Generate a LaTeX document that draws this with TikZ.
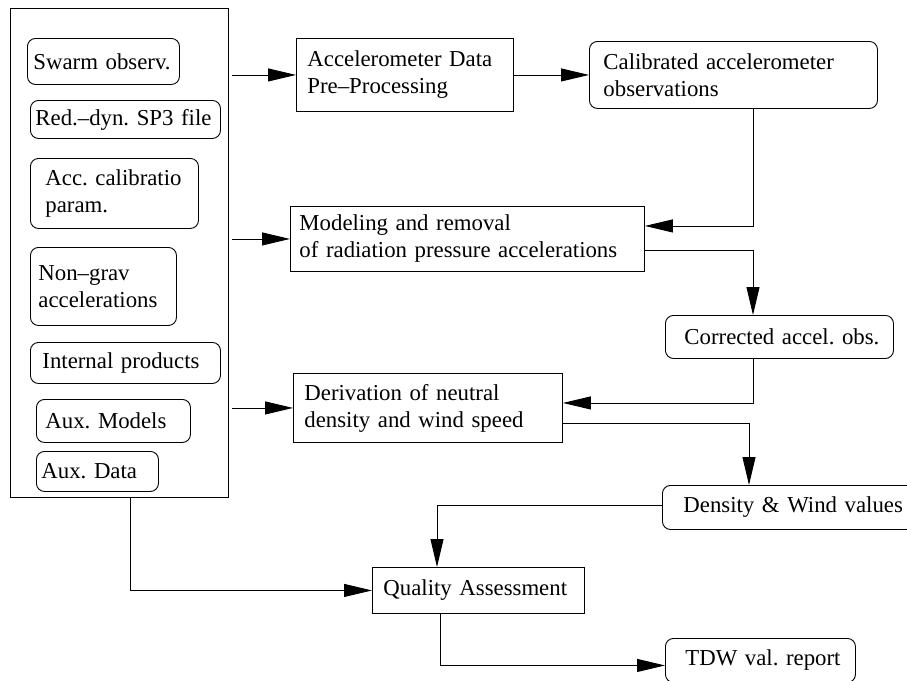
\documentclass[tikz,border=0pt]{standalone}
\usepackage{fontspec}
\setmainfont{Liberation Serif}
\usetikzlibrary{arrows.meta}
\begin{document}
\begin{tikzpicture}[x=1pt,y=-1pt]
        \tikzset{flow box/.style={draw,line width=0.9pt,anchor=north west,inner ysep=0pt,align=left,font=\fontsize{22.8}{27}\selectfont\frenchspacing},
                 data box/.style={flow box,rounded corners=8pt},
                 flow arrow/.style={line width=0.9pt,-{Triangle[length=28pt,width=13pt]}}}
        \useasboundingbox (0,0) rectangle (907,680);

        % inputs
        \node[flow box, minimum width=218pt, minimum height=489pt, inner sep=0pt] (inputs) at (10,8) {};
        \node[data box, minimum height=46pt, inner xsep=6pt, text width=140pt] (swarm) at (27,38) {\mbox{Swarm observ.}};
        \node[data box, minimum height=38pt, inner xsep=5pt, text width=180pt] (sp3) at (30,100) {\mbox{Red.--dyn. SP3 file}};
        \node[data box, minimum height=70pt, inner xsep=15pt, text width=138pt] (accpar) at (30,158) {\mbox{Acc. calibratio}\\param.};
        \node[data box, minimum height=78pt, inner xsep=8pt, text width=130pt] (nongrav) at (30,247) {Non--grav\\accelerations};
        \node[data box, minimum height=41pt, inner xsep=12pt, text width=166pt] (internal) at (30,342) {Internal products};
        \node[data box, minimum height=43pt, inner xsep=9pt, text width=136pt] (auxmod) at (36,399) {Aux. Models};
        \node[data box, minimum height=40pt, inner xsep=5pt, text width=112pt] (auxdata) at (36,451) {Aux. Data};

        % processing chain
        \node[flow box, minimum height=73pt, inner xsep=11pt, text width=195pt] (preproc) at (296,38) {Accelerometer Data\\Pre--Processing};
        \node[data box, minimum height=67pt, inner xsep=14pt, text width=260pt] (calobs) at (589,41) {Calibrated accelerometer\\observations};
        \node[flow box, minimum height=65pt, inner xsep=9pt, text width=336pt] (radmod) at (290,206) {Modeling and removal\\of radiation pressure accelerations};
        \node[data box, minimum height=43pt, inner xsep=19pt, text width=190pt] (corrobs) at (665,315) {\mbox{Corrected accel. obs.}};
        \node[flow box, minimum height=69pt, inner xsep=11pt, text width=247pt] (derive) at (293,373) {Derivation of neutral\\density and wind speed};
        \node[data box, minimum height=44pt, inner xsep=21pt, text width=231pt] (denswind) at (662,485) {\mbox{Density \& Wind values}};
        \node[flow box, minimum height=46pt, inner xsep=11pt, text width=190pt] (quality) at (372,567) {\mbox{Quality Assessment}};
        \node[data box, minimum height=44pt, inner xsep=20pt, text width=150pt] (report) at (665,638) {\mbox{TDW val. report}};

        \coordinate (col) at (753,0);
        \coordinate (col2) at (749,0);
        \coordinate (qin) at (437,0);
        \coordinate (qout) at (440,0);
        \coordinate (drop) at (130,0);

        \draw[flow arrow, shorten <=3pt] (inputs.east |- preproc.west) -- (preproc.west);
        \draw[flow arrow] (preproc.east) -- (calobs.west);
        \draw[flow arrow, shorten <=3pt] (inputs.east |- radmod.west) -- (radmod.west);
        \draw[flow arrow] (calobs.south -| col) |- ([yshift=13pt]radmod.east);
        \draw[flow arrow] ([yshift=-11pt]radmod.east) -| (corrobs.north -| col);
        \draw[flow arrow] (corrobs.south -| col) |- ([yshift=5pt]derive.east);
        \draw[flow arrow, shorten <=3pt] (inputs.east |- derive.west) -- (derive.west);
        \draw[flow arrow] ([yshift=-15pt]derive.east) -| (denswind.north -| col2);
        \draw[flow arrow] ([yshift=2pt]denswind.west) -| (quality.north -| qin);
        \draw[flow arrow] (inputs.south -| drop) |- (quality.west);
        \draw[flow arrow] (quality.south -| qout) |- ([yshift=-5pt]report.west);
    \end{tikzpicture}
\end{document}
